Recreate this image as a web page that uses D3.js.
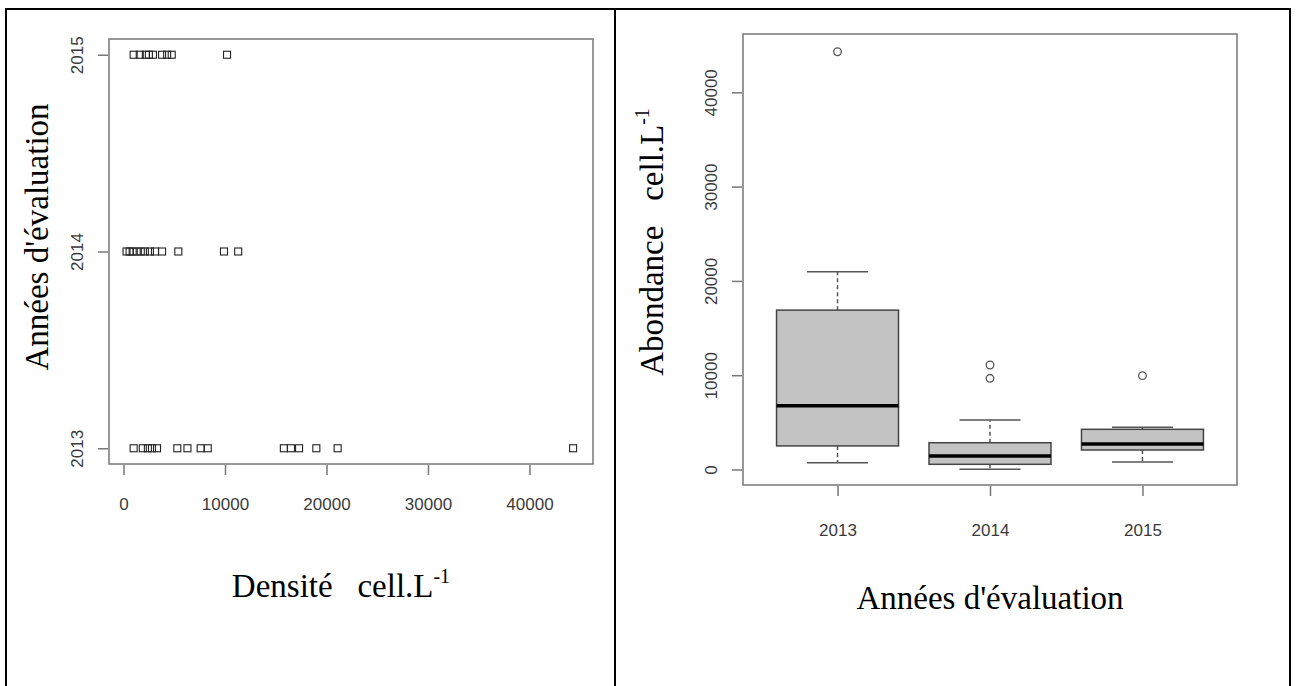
<!DOCTYPE html>
<html><head><meta charset="utf-8">
<script src="https://cdn.jsdelivr.net/npm/d3@7"></script>
<style>body{margin:0;background:#fff}svg{display:block}</style>
</head><body>
<script>
// ---------- DATA ----------
const years = [2013, 2014, 2015];
// Left panel: strip chart densities (cell/L) per year
const density2013 = [1000, 1900, 2400, 2800, 3300, 5300, 6300, 7600, 8300, 15800, 16500, 17300, 19000, 21100, 44300];
const density2014 = [300, 600, 900, 1300, 1700, 2100, 2600, 3100, 3800, 5400, 9900, 11300];
const density2015 = [1000, 1600, 2200, 2500, 2900, 3800, 4300, 4750, 10200];
const xTicksLeft = [0, 10000, 20000, 30000, 40000];
// Right panel: boxplot statistics per year
const whiskerLow  = [720, 20, 800];
const quart1      = [2500, 550, 2070];
const medians     = [6770, 1430, 2700];
const quart3      = [16900, 2840, 4260];
const whiskerHigh = [20980, 5250, 4480];
const outliers    = [[44300], [11080, 9670], [9950]];
const yTicksRight = [0, 10000, 20000, 30000, 40000];

const W = 1299, H = 686;
const svg = d3.select("body").append("svg").attr("width", W).attr("height", H);

const frameCol = "#777", tickCol = "#777", labCol = "#3a3a3a";
const sans = "'Liberation Sans', Arial, sans-serif";
const serif = "'Liberation Serif', 'Times New Roman', serif";

// ---------- table borders ----------
svg.append("line").attr("x1", 6).attr("x2", 1291).attr("y1", 9).attr("y2", 9).attr("stroke", "#000").attr("stroke-width", 2);
svg.append("line").attr("x1", 6).attr("x2", 6).attr("y1", 8).attr("y2", H).attr("stroke", "#000").attr("stroke-width", 2);
svg.append("line").attr("x1", 615).attr("x2", 615).attr("y1", 8).attr("y2", H).attr("stroke", "#000").attr("stroke-width", 2);
svg.append("line").attr("x1", 1290).attr("x2", 1290).attr("y1", 8).attr("y2", H).attr("stroke", "#000").attr("stroke-width", 2);

// ---------- LEFT PANEL ----------
const xL = d3.scaleLinear().domain([-1430, 46260]).range([109, 593]);
const yL = d3.scaleLinear().domain([2012.92, 2015.08]).range([464, 39]);
const gL = svg.append("g");
gL.append("rect").attr("x", xL.range()[0]).attr("y", yL.range()[1])
  .attr("width", xL.range()[1] - xL.range()[0]).attr("height", yL.range()[0] - yL.range()[1])
  .attr("fill", "none").attr("stroke", frameCol).attr("stroke-width", 1.5);

const xAxisL = d3.axisBottom(xL).tickValues(xTicksLeft).tickSize(10).tickFormat(d3.format("d"));
const gxL = gL.append("g").attr("transform", `translate(0,${yL.range()[0] + 1})`).call(xAxisL);
gxL.select(".domain").remove();
gxL.selectAll(".tick line").attr("stroke", tickCol).attr("stroke-width", 1.5);
gxL.selectAll(".tick text").attr("font-family", sans).attr("font-size", 17).attr("fill", labCol).attr("y", 33);

const yAxisL = d3.axisLeft(yL).tickValues(years).tickSize(10).tickFormat(d3.format("d"));
const gyL = gL.append("g").attr("transform", `translate(${xL.range()[0] - 1},0)`).call(yAxisL);
gyL.select(".domain").remove();
gyL.selectAll(".tick line").attr("stroke", tickCol).attr("stroke-width", 1.5);
gyL.selectAll(".tick text").attr("font-family", sans).attr("font-size", 17).attr("fill", labCol)
  .attr("x", null).attr("dy", null).attr("text-anchor", "middle")
  .attr("transform", "translate(-31,0) rotate(-90)").attr("dy", "0.35em");

const strip = [density2013, density2014, density2015];
strip.forEach((vals, i) => {
  gL.selectAll(null).data(vals).enter().append("rect")
    .attr("x", d => xL(d) - 3.5).attr("y", yL(years[i]) - 3.5)
    .attr("width", 7).attr("height", 7)
    .attr("fill", "none").attr("stroke", "#222").attr("stroke-width", 1.1);
});

// titles
gL.append("text").attr("transform", "translate(48,237) rotate(-90)")
  .attr("text-anchor", "middle").attr("font-family", serif).attr("font-size", 33).attr("fill", "#000")
  .text("Années d'évaluation");
const tL = gL.append("text").attr("x", 341).attr("y", 597).attr("text-anchor", "middle")
  .attr("font-family", serif).attr("font-size", 33).attr("fill", "#000").attr("xml:space", "preserve");
tL.append("tspan").text("Densité   cell.L");
tL.append("tspan").attr("font-size", 20).attr("dy", -14).text("-1");

// ---------- RIGHT PANEL ----------
const xR = d3.scaleLinear().domain([0.38, 3.62]).range([743, 1237]);
const yR = d3.scaleLinear().domain([-1644, 46183]).range([485, 34]);
const gR = svg.append("g");
gR.append("rect").attr("x", xR.range()[0]).attr("y", yR.range()[1])
  .attr("width", xR.range()[1] - xR.range()[0]).attr("height", yR.range()[0] - yR.range()[1])
  .attr("fill", "none").attr("stroke", frameCol).attr("stroke-width", 1.5);

const idx = years.map((d, i) => i + 1);
const xAxisR = d3.axisBottom(xR).tickValues(idx).tickSize(10).tickFormat((d) => years[d - 1]);
const gxR = gR.append("g").attr("transform", `translate(0,${yR.range()[0] + 1})`).call(xAxisR);
gxR.select(".domain").remove();
gxR.selectAll(".tick line").attr("stroke", tickCol).attr("stroke-width", 1.5);
gxR.selectAll(".tick text").attr("font-family", sans).attr("font-size", 17).attr("fill", labCol).attr("y", 38);

const yAxisR = d3.axisLeft(yR).tickValues(yTicksRight).tickSize(10).tickFormat(d3.format("d"));
const gyR = gR.append("g").attr("transform", `translate(${xR.range()[0] - 1},0)`).call(yAxisR);
gyR.select(".domain").remove();
gyR.selectAll(".tick line").attr("stroke", tickCol).attr("stroke-width", 1.5);
gyR.selectAll(".tick text").attr("font-family", sans).attr("font-size", 17).attr("fill", labCol)
  .attr("x", null).attr("dy", null).attr("text-anchor", "middle")
  .attr("transform", "translate(-31,0) rotate(-90)").attr("dy", "0.35em");

const boxW = 0.8, capW = 0.4;
idx.forEach((k, i) => {
  const cx = xR(k);
  const bw = xR(k + boxW / 2) - xR(k - boxW / 2);
  const cw = xR(k + capW / 2) - xR(k - capW / 2);
  // whiskers
  gR.append("line").attr("x1", cx).attr("x2", cx).attr("y1", yR(quart3[i])).attr("y2", yR(whiskerHigh[i]))
    .attr("stroke", "#555").attr("stroke-width", 1.5).attr("stroke-dasharray", "4,3");
  gR.append("line").attr("x1", cx).attr("x2", cx).attr("y1", yR(quart1[i])).attr("y2", yR(whiskerLow[i]))
    .attr("stroke", "#555").attr("stroke-width", 1.5).attr("stroke-dasharray", "4,3");
  [whiskerHigh[i], whiskerLow[i]].forEach(v => {
    gR.append("line").attr("x1", cx - cw / 2).attr("x2", cx + cw / 2).attr("y1", yR(v)).attr("y2", yR(v))
      .attr("stroke", "#555").attr("stroke-width", 1.5);
  });
  // box
  gR.append("rect").attr("x", cx - bw / 2).attr("y", yR(quart3[i]))
    .attr("width", bw).attr("height", yR(quart1[i]) - yR(quart3[i]))
    .attr("fill", "#c3c3c3").attr("stroke", "#444").attr("stroke-width", 1.5);
  gR.append("line").attr("x1", cx - bw / 2).attr("x2", cx + bw / 2).attr("y1", yR(medians[i])).attr("y2", yR(medians[i]))
    .attr("stroke", "#000").attr("stroke-width", 3.5);
  // outliers
  gR.selectAll(null).data(outliers[i]).enter().append("circle")
    .attr("cx", cx).attr("cy", d => yR(d)).attr("r", 3.8)
    .attr("fill", "none").attr("stroke", "#555").attr("stroke-width", 1.3);
});

gR.append("text").attr("transform", "translate(663,242) rotate(-90)")
  .attr("text-anchor", "middle").attr("font-family", serif).attr("font-size", 33).attr("fill", "#000")
  .attr("xml:space", "preserve")
  .call(t => { t.append("tspan").text("Abondance   cell.L"); t.append("tspan").attr("font-size", 20).attr("dy", -14).text("-1"); });
gR.append("text").attr("x", 990).attr("y", 609).attr("text-anchor", "middle")
  .attr("font-family", serif).attr("font-size", 33).attr("fill", "#000").text("Années d'évaluation");
</script>
</body></html>
